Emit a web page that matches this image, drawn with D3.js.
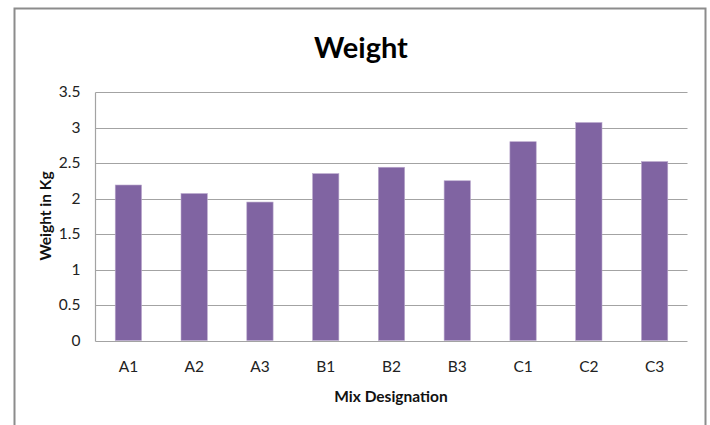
<!DOCTYPE html>
<html>
<head>
<meta charset="utf-8">
<script src="https://cdn.jsdelivr.net/npm/d3@7"></script>
<style>
  html, body { margin: 0; padding: 0; background: #fff; }
  svg { display: block; font-family: Lato, "Open Sans", sans-serif; }
</style>
</head>
<body>
<svg id="chart" width="710" height="425"></svg>
<script>
// Mix designations and measured weight (kg)
const categories = ["A1", "A2", "A3", "B1", "B2", "B3", "C1", "C2", "C3"];
const weights = [2.19, 2.07, 1.95, 2.35, 2.44, 2.25, 2.80, 3.07, 2.52];
const yTicks = [0, 0.5, 1, 1.5, 2, 2.5, 3, 3.5];

const svg = d3.select("#chart");
const W = 710, H = 425;

// Chart frame (open at the bottom edge)
svg.append("path")
  .attr("d", `M14.5,${H} V8.5 H705.5 V${H}`)
  .attr("fill", "none")
  .attr("stroke", "#8c8c8c")
  .attr("stroke-width", 2);

const plot = { left: 95.5, right: 687.5, top: 92, bottom: 340.5 };

const x = d3.scaleBand()
  .domain(categories)
  .range([plot.left, plot.right])
  .paddingInner(0.6)
  .paddingOuter(0.3);

const y = d3.scaleLinear()
  .domain([0, 3.5])
  .range([plot.bottom, plot.top]);

// Horizontal gridlines
svg.append("g")
  .selectAll("line")
  .data(yTicks)
  .join("line")
  .attr("x1", plot.left)
  .attr("x2", plot.right)
  .attr("y1", d => Math.round(y(d)) + 0.5)
  .attr("y2", d => Math.round(y(d)) + 0.5)
  .attr("stroke", "#a3a3a3")
  .attr("stroke-width", 1.2);

// Value axis line
svg.append("line")
  .attr("x1", plot.left).attr("x2", plot.left)
  .attr("y1", Math.round(y(3.5)) + 0.5).attr("y2", Math.round(y(0)) + 0.5)
  .attr("stroke", "#a3a3a3")
  .attr("stroke-width", 1.2);

// Bars
svg.append("g")
  .selectAll("rect")
  .data(categories.map((c, i) => ({ c, v: weights[i] })))
  .join("rect")
  .attr("x", d => x(d.c))
  .attr("width", x.bandwidth())
  .attr("y", d => y(d.v))
  .attr("height", d => y(0) - y(d.v))
  .attr("fill", "#8064a2")
  .attr("stroke", "#b9a8cc")
  .attr("stroke-width", 0.6);

// Y axis tick labels
const yAxis = d3.axisLeft(y)
  .tickValues(yTicks)
  .tickFormat(d => String(d))
  .tickSize(0)
  .tickPadding(15);
const gy = svg.append("g")
  .attr("transform", `translate(${plot.left},0)`)
  .call(yAxis);
gy.select(".domain").remove();
gy.selectAll("text")
  .attr("font-family", "Lato, 'Open Sans', sans-serif")
  .attr("font-size", 15.5)
  .attr("fill", "#222");

// X axis category labels
const xAxis = d3.axisBottom(x).tickSize(0).tickPadding(20);
const gx = svg.append("g")
  .attr("transform", `translate(0,${plot.bottom})`)
  .call(xAxis);
gx.select(".domain").remove();
gx.selectAll("text")
  .attr("font-family", "Lato, 'Open Sans', sans-serif")
  .attr("font-size", 15.5)
  .attr("fill", "#222");

// Title
svg.append("text")
  .attr("x", 361)
  .attr("y", 58)
  .attr("text-anchor", "middle")
  .attr("font-weight", "bold")
  .attr("font-size", 29)
  .attr("fill", "#000")
  .text("Weight");

// Axis titles
svg.append("text")
  .attr("x", 391)
  .attr("y", 402)
  .attr("text-anchor", "middle")
  .attr("font-weight", "bold")
  .attr("font-size", 15.5)
  .attr("fill", "#111")
  .text("Mix Designation");

svg.append("text")
  .attr("transform", "translate(51,216) rotate(-90)")
  .attr("text-anchor", "middle")
  .attr("font-weight", "bold")
  .attr("font-size", 15.5)
  .attr("fill", "#111")
  .text("Weight in Kg");
</script>
</body>
</html>
